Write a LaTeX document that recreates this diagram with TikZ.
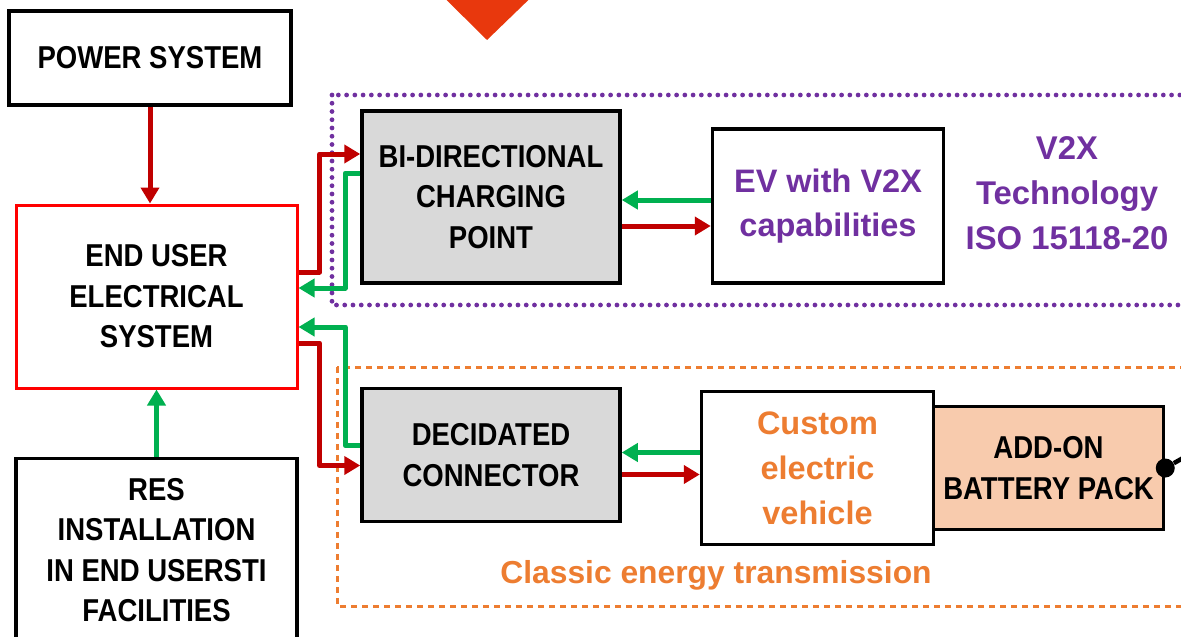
\documentclass[tikz,border=0pt]{standalone}
\usepackage{fontspec}
\setmainfont{Liberation Sans}
\newfontfamily\narrowfont[FakeStretch=0.87]{Liberation Sans}
\usetikzlibrary{arrows.meta,positioning,calc}
\definecolor{darkred}{RGB}{192,0,0}
\definecolor{flowgreen}{RGB}{0,176,80}
\definecolor{v2xpurple}{RGB}{112,48,160}
\definecolor{classicorange}{RGB}{237,125,49}
\definecolor{boxgray}{RGB}{217,217,217}
\definecolor{peach}{RGB}{248,203,173}
\definecolor{tipred}{RGB}{232,56,13}

\begin{document}
\begin{tikzpicture}[
        box/.style={rectangle, draw=black, line width=0.07cm, align=center, inner sep=2pt, font=\narrowfont\bfseries\fontsize{18}{23}\selectfont},
        evbox/.style={box, font=\bfseries\fontsize{18.5}{25.5}\selectfont},
        colortext/.style={align=center, font=\bfseries\fontsize{18.7}{25.5}\selectfont},
        redarrow/.style={-{Triangle[length=0.32cm, width=0.36cm]}, line width=0.1cm, line join=round, darkred},
        greenarrow/.style={-{Triangle[length=0.32cm, width=0.36cm]}, line width=0.1cm, line join=round, flowgreen}
    ]
    \useasboundingbox (0,0) rectangle (23.62,12.72);
    \clip (0,0) rectangle (23.62,12.72);
    \fill[tipred] (8.85,12.8) -- (10.65,12.8) -- (9.74,11.92) -- cycle;
    \draw[v2xpurple, line width=0.095cm, line cap=round, dash pattern=on 0pt off 0.165cm] (6.64,10.82) rectangle (24.2,6.62);
    \draw[classicorange, line width=0.06cm, dash pattern=on 0.12cm off 0.1cm] (6.74,5.38) rectangle (24.2,0.6);
    \node[box, minimum width=5.64cm, minimum height=1.88cm] (power) at (3.0,11.56) {POWER SYSTEM};
    \node[box, draw=red, line width=0.06cm, minimum width=5.62cm, minimum height=3.66cm] (enduser) at (3.13,6.79) {END USER\\ELECTRICAL\\SYSTEM};
    \node[box, minimum width=5.62cm, minimum height=3.68cm, below=1.34cm of enduser] (res) {RES\\INSTALLATION\\IN END USERSTI\\FACILITIES};
    \node[box, fill=boxgray, minimum width=5.16cm, minimum height=3.44cm] (bidir) at (9.82,8.78) {BI-DIRECTIONAL\\CHARGING\\POINT};
    \node[evbox, text=v2xpurple, minimum width=4.62cm, minimum height=3.08cm, right=1.78cm of bidir, yshift=-0.18cm] (ev) {EV with V2X\\capabilities};
    \node[colortext, text=v2xpurple] (v2x) at (21.34,8.86) {V2X\\Technology\\ISO 15118-20};
    \node[box, fill=boxgray, minimum width=5.16cm, minimum height=2.66cm, below=2.04cm of bidir] (conn) {DECIDATED\\CONNECTOR};
    \node[evbox, text=classicorange, minimum width=4.64cm, minimum height=3.06cm, right=1.56cm of conn, yshift=-0.26cm] (cev) {Custom\\electric\\vehicle};
    \node[box, fill=peach, minimum width=4.6cm, minimum height=2.46cm, right=-0.07cm of cev] (pack) {ADD-ON\\BATTERY PACK};
    \node[colortext, text=classicorange, font=\bfseries\fontsize{18.1}{22}\selectfont] (classic) at (14.32,1.22) {Classic energy transmission};
    \node[circle, fill=black, inner sep=0pt, minimum size=0.38cm] (dot) at (pack.east) {};
    \coordinate (lead) at ($(dot)+(0.8,0.45)$);
    \draw[line width=0.09cm] (dot) -- (lead);
    \draw[redarrow] (power.south) -- (power.south |- enduser.north);
    \draw[greenarrow] (res) -- (enduser);
    \draw[redarrow] ([yshift=0.49cm]enduser.east) -- ++(0.42,0) |- ([yshift=0.86cm]bidir.west);
    \draw[greenarrow] ([yshift=0.48cm]bidir.west) -- ++(-0.3,0) |- ([yshift=0.17cm]enduser.east);
    \draw[greenarrow] ([yshift=0.19cm]conn.west) -- ++(-0.3,0) |- ([yshift=-0.61cm]enduser.east);
    \draw[redarrow] ([yshift=-0.93cm]enduser.east) -- ++(0.42,0) |- ([yshift=-0.21cm]conn.west);
    \draw[greenarrow] ([yshift=0.12cm]ev.west) -- ([yshift=0.12cm]ev.west -| bidir.east);
    \draw[redarrow] ([yshift=-0.4cm]ev.west -| bidir.east) -- ([yshift=-0.4cm]ev.west);
    \draw[greenarrow] ([yshift=0.31cm]cev.west) -- ([yshift=0.31cm]cev.west -| conn.east);
    \draw[redarrow] ([yshift=-0.13cm]cev.west -| conn.east) -- ([yshift=-0.13cm]cev.west);
\end{tikzpicture}
\end{document}
